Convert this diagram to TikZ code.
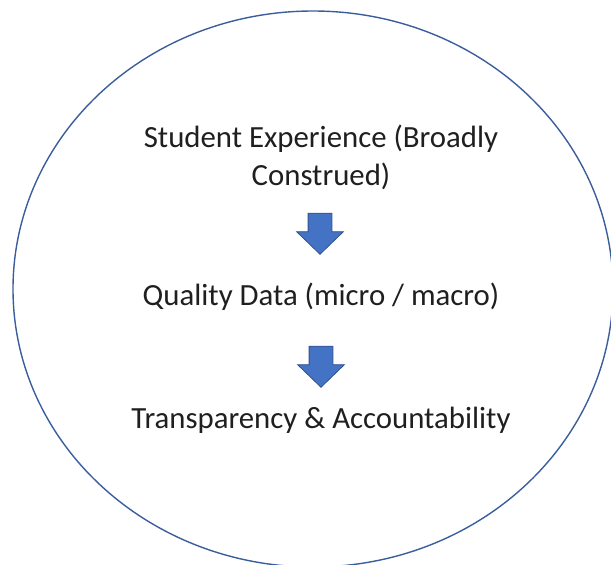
\documentclass[tikz,border=0pt]{standalone}
\usepackage{fontspec}
\setmainfont{Carlito}
\usetikzlibrary{shapes.arrows}
\definecolor{ringblue}{HTML}{3A5D9C}
\definecolor{arrowfill}{HTML}{4472C4}
\definecolor{arrowline}{HTML}{2F528F}
\tikzset{
  label text/.style={font=\fontsize{30.8}{37.6}\selectfont, text=black!88, inner sep=0pt, align=center},
  down arrow/.style={single arrow, rotate=-90, fill=arrowfill, draw=arrowline, line width=0.8pt,
    minimum height=41pt, minimum width=46pt, inner xsep=0pt, inner ysep=11.5pt,
    single arrow head extend=11.5pt, single arrow tip angle=92},
}
\begin{document}
\begin{tikzpicture}[x=1pt,y=-1pt]
  \useasboundingbox (0,0) rectangle (611,565);
  \clip (0,0) rectangle (611,565);
  % enclosing ellipse
  \draw[ringblue, line width=1.4pt] (313,289) ellipse [x radius=300, y radius=278];
  % stacked statements (base anchor sits on the last line)
  \node[label text, anchor=base] (exp) at (321,185) {Student Experience (Broadly\\Construed)};
  \node[label text, anchor=base] (data) at (321,305) {Quality Data (micro / macro)};
  \node[label text, anchor=base] (trans) at (321,428) {Transparency \& Accountability};
  % arrows between statements
  \node[down arrow] (a1) at (320,228) {};
  \node[down arrow] (a2) at (321,361) {};
\end{tikzpicture}
\end{document}
